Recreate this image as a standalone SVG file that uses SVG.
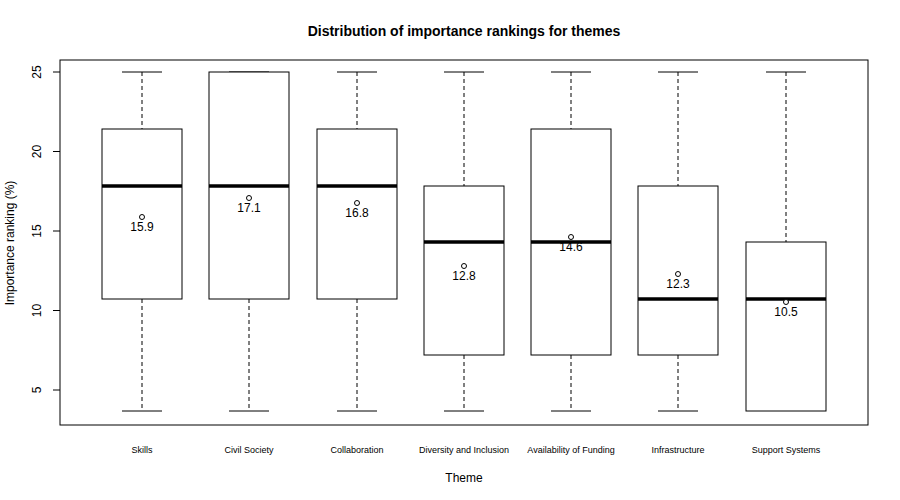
<svg xmlns="http://www.w3.org/2000/svg" width="900" height="500" viewBox="0 0 900 500">
<style>
text{font-family:"Liberation Sans",Arial,sans-serif;fill:#000}
.ln{stroke:#000;stroke-width:1;fill:none}
.dash{stroke:#000;stroke-width:1;stroke-dasharray:4,3;fill:none}
.box{stroke:#000;stroke-width:1;fill:#fff}
.med{stroke:#000;stroke-width:3.5}
.pt{stroke:#000;stroke-width:1;fill:#fff}
.val{font-size:12px;text-anchor:middle}
.xl{font-size:9px;text-anchor:middle}
.yl{font-size:12px;text-anchor:middle}
</style>
<rect width="900" height="500" fill="#fff"/>
<text x="464" y="36" font-size="14" font-weight="bold" text-anchor="middle">Distribution of importance rankings for themes</text>
<rect x="60" y="60" width="808" height="365" class="ln"/>
<g id="yaxis">
<path class="ln" d="M53,72H60M53,151.5H60M53,231H60M53,310.5H60M53,390H60"/>
<text class="yl" transform="translate(41,72) rotate(-90)">25</text>
<text class="yl" transform="translate(41,151.5) rotate(-90)">20</text>
<text class="yl" transform="translate(41,231) rotate(-90)">15</text>
<text class="yl" transform="translate(41,310.5) rotate(-90)">10</text>
<text class="yl" transform="translate(41,390) rotate(-90)">5</text>
<text font-size="12" text-anchor="middle" transform="translate(14,243) rotate(-90)">Importance ranking (%)</text>
</g>
<text x="464" y="482" font-size="12" text-anchor="middle">Theme</text>
<g id="connectors">
<path class="dash" d="M142,72V129M142,299V411M249,299V411M357,72V129M357,299V411M464,72V186M464,355V411M571,72V129M571,355V411M678,72V186M678,355V411M786,72V242"/>
<path class="ln" d="M122,72H162M122,411H162M229,72H269M229,411H269M337,72H377M337,411H377M444,72H484M444,411H484M551,72H591M551,411H591M658,72H698M658,411H698M766,72H806"/>
</g>
<g id="skills"><rect class="box" x="102" y="129" width="80" height="170"/><line class="med" x1="102" x2="182" y1="186" y2="186"/><circle class="pt" cx="142" cy="217" r="2.5"/><text class="val" x="142" y="231">15.9</text><text class="xl" x="142" y="453">Skills</text></g>
<g id="civil"><rect class="box" x="209" y="72" width="80" height="227"/><line class="med" x1="209" x2="289" y1="186" y2="186"/><circle class="pt" cx="249" cy="198" r="2.5"/><text class="val" x="249" y="212">17.1</text><text class="xl" x="249" y="453">Civil Society</text></g>
<g id="collab"><rect class="box" x="317" y="129" width="80" height="170"/><line class="med" x1="317" x2="397" y1="186" y2="186"/><circle class="pt" cx="357" cy="203" r="2.5"/><text class="val" x="357" y="217">16.8</text><text class="xl" x="357" y="453">Collaboration</text></g>
<g id="diversity"><rect class="box" x="424" y="186" width="80" height="169"/><line class="med" x1="424" x2="504" y1="242" y2="242"/><circle class="pt" cx="464" cy="266" r="2.5"/><text class="val" x="464" y="280">12.8</text><text class="xl" x="464" y="453">Diversity and Inclusion</text></g>
<g id="funding"><rect class="box" x="531" y="129" width="80" height="226"/><line class="med" x1="531" x2="611" y1="242" y2="242"/><circle class="pt" cx="571" cy="237" r="2.5"/><text class="val" x="571" y="251">14.6</text><text class="xl" x="571" y="453">Availability of Funding</text></g>
<g id="infra"><rect class="box" x="638" y="186" width="80" height="169"/><line class="med" x1="638" x2="718" y1="299" y2="299"/><circle class="pt" cx="678" cy="274" r="2.5"/><text class="val" x="678" y="288">12.3</text><text class="xl" x="678" y="453">Infrastructure</text></g>
<g id="support"><rect class="box" x="746" y="242" width="80" height="169"/><line class="med" x1="746" x2="826" y1="299" y2="299"/><circle class="pt" cx="786" cy="302" r="2.5"/><text class="val" x="786" y="316">10.5</text><text class="xl" x="786" y="453">Support Systems</text></g>
</svg>
